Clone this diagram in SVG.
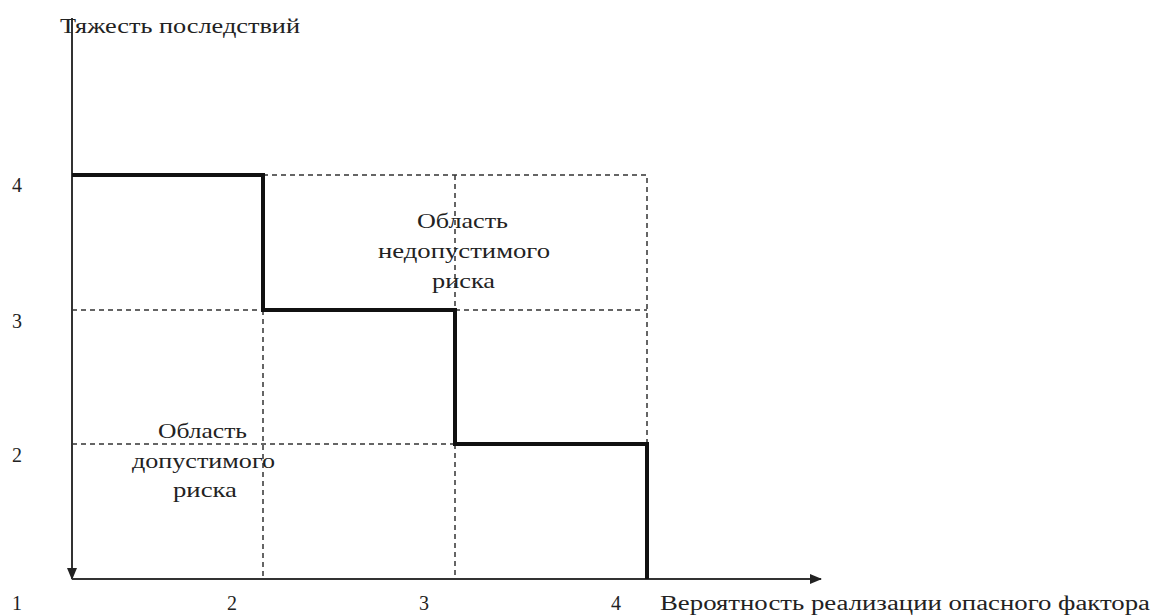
<svg xmlns="http://www.w3.org/2000/svg" width="1151" height="615" viewBox="0 0 1151 615">
<style>
text{font-family:"Liberation Serif","Times New Roman",serif;font-size:20px;fill:#222}
.reg{font-size:22px}
.dash{stroke:#333;stroke-width:1.5;stroke-dasharray:5 4;fill:none}
.axis{stroke:#333;stroke-width:2;fill:none}
.step{stroke:#111;stroke-width:4;fill:none}
</style>
<defs>
<marker id="arr" markerWidth="12" markerHeight="12" refX="11" refY="6" orient="auto" markerUnits="userSpaceOnUse" viewBox="0 0 12 12">
<path d="M0,1 L12,6 L0,11 Z" fill="#222"/>
</marker>
</defs>
<rect width="1151" height="615" fill="#fff"/>
<g id="grid">
<path class="dash" d="M263,175 H647 V444 M72,310 H263 M455,310 H647 M72,444 H455 M263,310 V579 M455,175 V310 M455,444 V579"/>
</g>
<g id="connectors">
<line class="axis" x1="72" y1="18" x2="72" y2="579" marker-end="url(#arr)"/>
<line class="axis" x1="72" y1="579" x2="821" y2="579" marker-end="url(#arr)"/>
<path class="step" d="M72,175 H263 V310 H455 V444 H647 V579"/>
</g>
<g id="labels">
<text x="60" y="33" textLength="240" lengthAdjust="spacingAndGlyphs">Тяжесть последствий</text>
<text x="12" y="192">4</text>
<text x="12" y="328">3</text>
<text x="12" y="462">2</text>
<text x="12" y="610">1</text>
<text x="227" y="610">2</text>
<text x="419" y="610">3</text>
<text x="611" y="610">4</text>
<text x="660" y="610" textLength="490" lengthAdjust="spacingAndGlyphs">Вероятность реализации опасного фактора</text>
</g>
<g id="region-unacceptable">
<text class="reg" x="417" y="228" textLength="91" lengthAdjust="spacingAndGlyphs">Область</text>
<text class="reg" x="378" y="258" textLength="172" lengthAdjust="spacingAndGlyphs">недопустимого</text>
<text class="reg" x="432" y="288" textLength="63" lengthAdjust="spacingAndGlyphs">риска</text>
</g>
<g id="region-acceptable">
<text class="reg" x="158" y="438" textLength="89" lengthAdjust="spacingAndGlyphs">Область</text>
<text class="reg" x="132" y="468" textLength="143" lengthAdjust="spacingAndGlyphs">допустимого</text>
<text class="reg" x="173" y="497" textLength="64" lengthAdjust="spacingAndGlyphs">риска</text>
</g>
</svg>
